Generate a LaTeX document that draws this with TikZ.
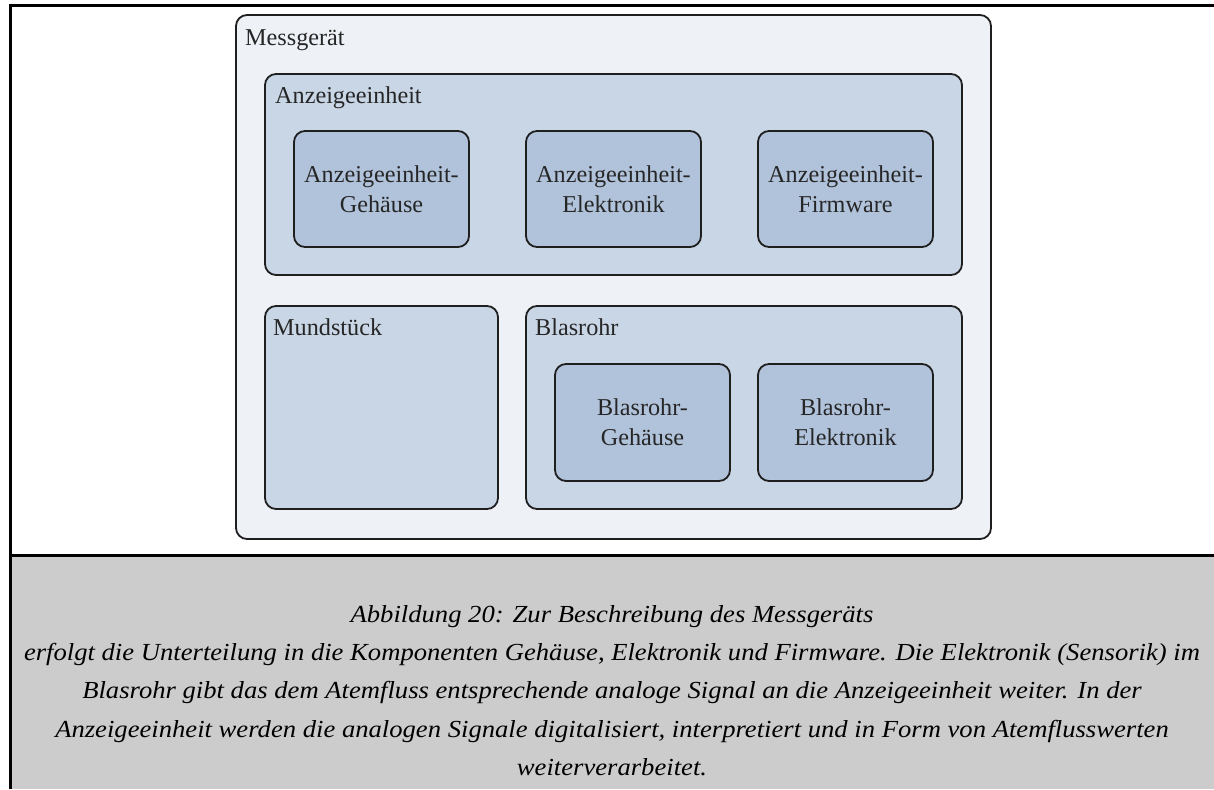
\documentclass[tikz,border=0pt]{standalone}
\usepackage{fontspec}
\setmainfont{Liberation Serif}
\newfontfamily\captfont{Liberation Serif}[FakeStretch=1.087]
\begin{document}
\begin{tikzpicture}[x=1pt,y=-1pt,
  frameline/.style={line width=3pt,black},
  lvl0/.style={draw=black!88,line width=1.8pt,rounded corners=11pt,fill=boxA},
  lvl1/.style={draw=black!88,line width=1.8pt,rounded corners=11pt,fill=boxB},
  lvl2/.style={draw=black!88,line width=1.8pt,rounded corners=11pt,fill=boxC},
  ttl/.style={anchor=base west,inner sep=0pt,font=\fontsize{24.2}{29}\selectfont,text=black!85},
  part/.style={align=center,inner sep=0pt,font=\fontsize{24.2}{30}\selectfont,text=black!85},
  capt/.style={align=center,inner sep=0pt,font=\captfont\fontsize{24.5}{38.3}\selectfont\itshape}
]
\definecolor{boxA}{HTML}{EEF1F6}
\definecolor{boxB}{HTML}{C9D6E6}
\definecolor{boxC}{HTML}{B1C3DB}
\definecolor{captgray}{HTML}{CCCCCC}
\useasboundingbox (0,0) rectangle (1214,789);
% caption panel and frame
\fill[white] (0,0) rectangle (1214,789);
\fill[captgray] (10,556) rectangle (1214,789);
\draw[frameline] (1214,5.5) -- (10,5.5) -- (10,789);
\draw[frameline] (10,555.5) -- (1214,555.5);
% device
\draw[lvl0] (236,15) rectangle (991,539);
\node[ttl] (tdev) at (245,46) {Messgerät};
% display unit
\draw[lvl1] (265,74) rectangle (962,275);
\node[ttl] (tdisp) at (275,103) {Anzeigeeinheit};
\draw[lvl2] (294,131) rectangle (469,247);
\node[part] (dg) at (381.5,189) {Anzeigeeinheit-\\Gehäuse};
\draw[lvl2] (526,131) rectangle (701,247);
\node[part] (de) at (613.5,189) {Anzeigeeinheit-\\Elektronik};
\draw[lvl2] (758,131) rectangle (933,247);
\node[part] (df) at (845.5,189) {Anzeigeeinheit-\\Firmware};
% mouthpiece
\draw[lvl1] (265,306) rectangle (498,509);
\node[ttl] (tmouth) at (273,335) {Mundstück};
% tube
\draw[lvl1] (526,306) rectangle (962,509);
\node[ttl] (ttube) at (535,335) {Blasrohr};
\draw[lvl2] (555,364) rectangle (730,481);
\node[part] (tg) at (642.5,422.5) {Blasrohr-\\Gehäuse};
\draw[lvl2] (758,364) rectangle (933,481);
\node[part] (te) at (845.5,422.5) {Blasrohr-\\Elektronik};
% caption
\node[capt] (cap) at (612,690.5) {Abbildung 20: Zur Beschreibung des Messgeräts\\
erfolgt die Unterteilung in die Komponenten Gehäuse, Elektronik und Firmware. Die Elektronik (Sensorik) im\\
Blasrohr gibt das dem Atemfluss entsprechende analoge Signal an die Anzeigeeinheit weiter. In der\\
Anzeigeeinheit werden die analogen Signale digitalisiert, interpretiert und in Form von Atemflusswerten\\
weiterverarbeitet.};
\end{tikzpicture}
\end{document}
